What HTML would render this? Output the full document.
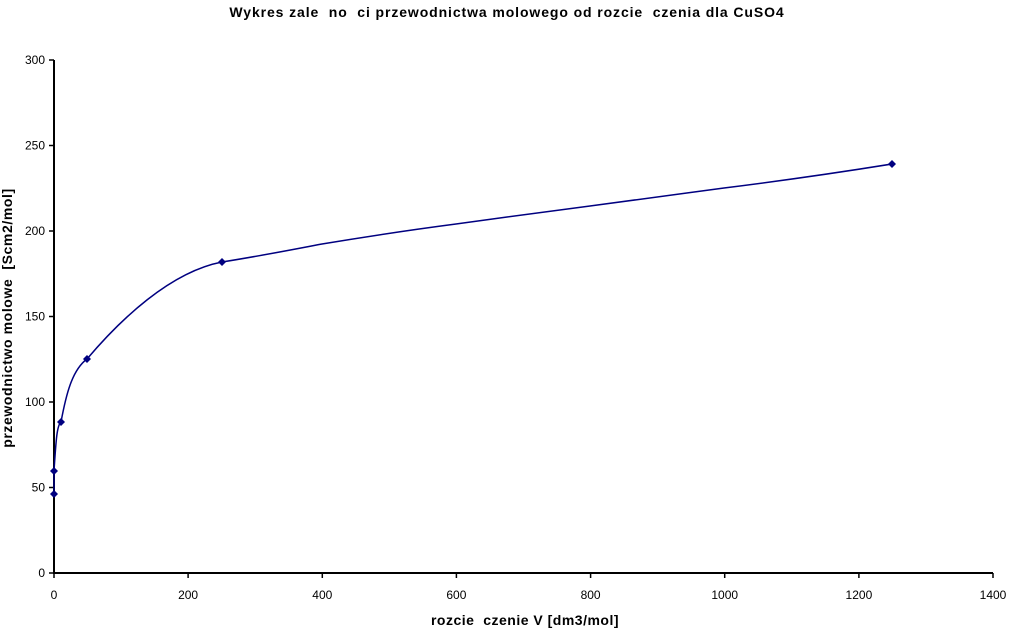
<!DOCTYPE html>
<html><head><meta charset="utf-8"><style>
html,body{margin:0;padding:0;background:#fff;}
svg{display:block;font-family:"Liberation Sans",sans-serif;}
text{white-space:pre;}
</style></head><body>
<svg width="1009" height="630" viewBox="0 0 1009 630" xmlns="http://www.w3.org/2000/svg">
<text x="507" y="17" text-anchor="middle" font-size="14" font-weight="bold" letter-spacing="0.9" xml:space="preserve">Wykres zale  no  ci przewodnictwa molowego od rozcie  czenia dla CuSO4</text>
<g stroke="#000" stroke-width="2" fill="none">
<line x1="54" y1="60" x2="54" y2="574"/>
<line x1="53" y1="573" x2="993" y2="573"/>
</g>
<g stroke="#000" stroke-width="1.5">
<line x1="49" y1="573" x2="54" y2="573"/>
<line x1="49" y1="487.5" x2="54" y2="487.5"/>
<line x1="49" y1="402" x2="54" y2="402"/>
<line x1="49" y1="316.5" x2="54" y2="316.5"/>
<line x1="49" y1="231" x2="54" y2="231"/>
<line x1="49" y1="145.5" x2="54" y2="145.5"/>
<line x1="49" y1="60" x2="54" y2="60"/>
<line x1="54" y1="573" x2="54" y2="578"/>
<line x1="188.1" y1="573" x2="188.1" y2="578"/>
<line x1="322.3" y1="573" x2="322.3" y2="578"/>
<line x1="456.4" y1="573" x2="456.4" y2="578"/>
<line x1="590.6" y1="573" x2="590.6" y2="578"/>
<line x1="724.7" y1="573" x2="724.7" y2="578"/>
<line x1="858.9" y1="573" x2="858.9" y2="578"/>
<line x1="993" y1="573" x2="993" y2="578"/>
</g>
<g font-size="12" text-anchor="end" fill="#000">
<text x="45" y="577">0</text>
<text x="45" y="491.5">50</text>
<text x="45" y="406">100</text>
<text x="45" y="320.5">150</text>
<text x="45" y="235">200</text>
<text x="45" y="149.5">250</text>
<text x="45" y="64">300</text>
</g>
<g font-size="12" text-anchor="middle" fill="#000">
<text x="54" y="599">0</text>
<text x="188.1" y="599">200</text>
<text x="322.3" y="599">400</text>
<text x="456.4" y="599">600</text>
<text x="590.6" y="599">800</text>
<text x="724.7" y="599">1000</text>
<text x="858.9" y="599">1200</text>
<text x="993" y="599">1400</text>
</g>
<text x="525" y="625" text-anchor="middle" font-size="14" font-weight="bold" letter-spacing="0.5" xml:space="preserve">rozcie  czenie V [dm3/mol]</text>
<text transform="translate(12,318) rotate(-90)" text-anchor="middle" font-size="14" font-weight="bold" letter-spacing="0.6" xml:space="preserve">przewodnictwo molowe  [Scm2/mol]</text>
<path d="M54,494 L54,471 C56,440 57,425 61,422 C66,395 72,370 87,359 C120,320 170,272 222,262 C260,256 290,250 322,244 C370,236 410,230 456,224 C500,218 550,211 590,206 C640,199 680,194 724,188 C780,181 830,174 892,164" fill="none" stroke="#000080" stroke-width="1.5"/>
<g fill="#000080">
<path d="M54,490 L58,494 L54,498 L50,494Z"/>
<path d="M54,467 L58,471 L54,475 L50,471Z"/>
<path d="M61,418 L65,422 L61,426 L57,422Z"/>
<path d="M87,355 L91,359 L87,363 L83,359Z"/>
<path d="M222,258 L226,262 L222,266 L218,262Z"/>
<path d="M892,160 L896,164 L892,168 L888,164Z"/>
</g>
</svg>
</body></html>
